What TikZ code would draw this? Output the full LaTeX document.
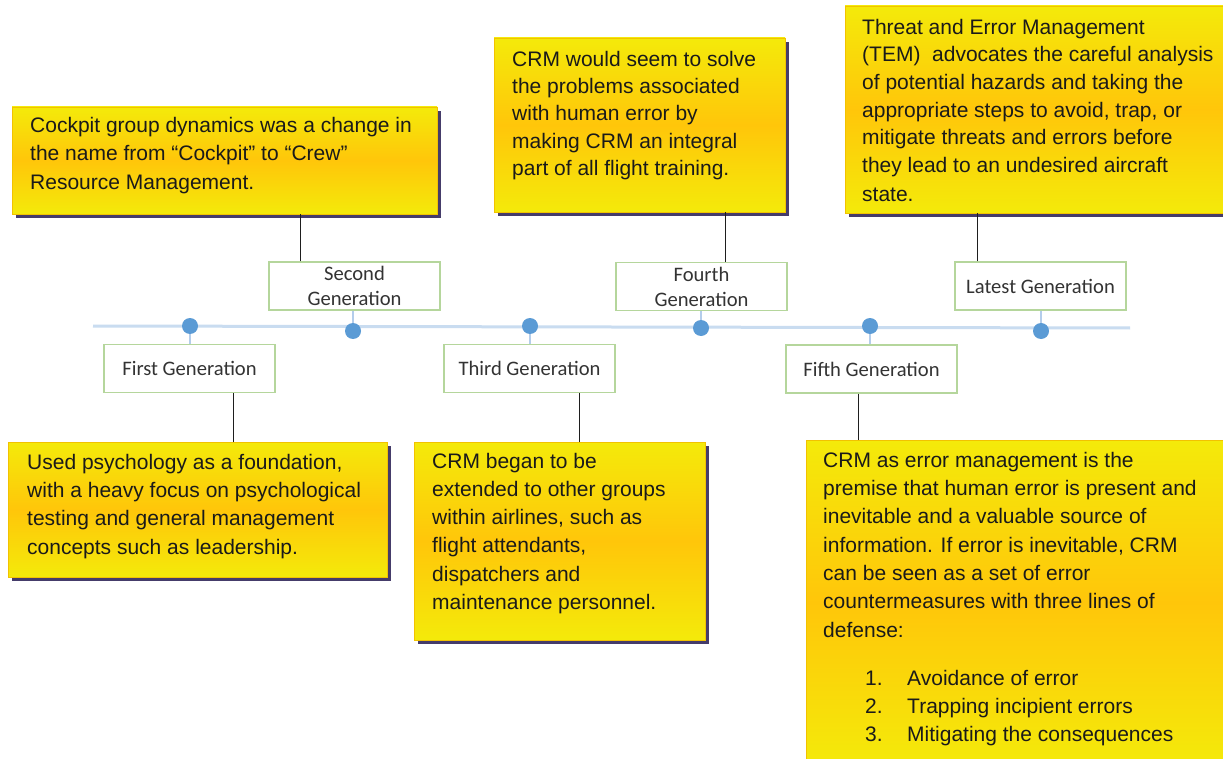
\documentclass[tikz,border=0pt]{standalone}
\usepackage{fontspec}
\setmainfont{Liberation Sans}
\newfontfamily\labelfont{Carlito}
\usetikzlibrary{shadows}

\definecolor{noteyel}{HTML}{F4EA0A}
\definecolor{noteorg}{HTML}{FFC60A}
\definecolor{notebd}{HTML}{F2C200}
\definecolor{noteshadow}{HTML}{453C6A}
\definecolor{notetxt}{HTML}{1A1A1A}
\definecolor{genbd}{HTML}{B5D69C}
\definecolor{gentxt}{HTML}{333333}
\definecolor{dotblue}{HTML}{5B9BD5}
\definecolor{lineblue}{HTML}{C9DCF0}
\definecolor{stemblue}{HTML}{B4CDEB}
\definecolor{conncol}{HTML}{1E1E1E}

\begin{document}
\begin{tikzpicture}[x=1pt,y=-1pt,
  note/.style={draw=notebd, line width=0.8pt,
    top color=noteyel, bottom color=noteyel, middle color=noteorg,
    drop shadow={shadow xshift=4pt, shadow yshift=-4pt, fill=noteshadow, opacity=1},
    inner sep=0pt, outer sep=0pt},
  notetext/.style={anchor=north west, inner sep=0pt, align=left, text=notetxt},
  gen/.style={draw=genbd, line width=1.2pt, fill=white,
    minimum width=171pt, minimum height=48pt, inner sep=0pt, align=center,
    text=gentxt, font=\labelfont\fontsize{20.6}{25}\selectfont},
  dot/.style={circle, fill=dotblue, minimum size=16pt, inner sep=0pt},
  stem/.style={draw=stemblue, line width=1.5pt},
  timeline/.style={draw=lineblue, line width=3pt},
  conn/.style={draw=conncol, line width=1.6pt}]

% canvas
\fill[white] (0,0) rectangle (1223,759);
\useasboundingbox (0,0) rectangle (1223,759);
\clip (0,0) rectangle (1223,759);

% timeline axis
\coordinate (tlS) at (93,326);
\coordinate (tlE) at (1130,328);
\draw[timeline] (tlS) -- (tlE);

% generation labels
\node[gen] (g1) at (189.5,368.5) {First Generation};
\node[gen] (g2) at (354.5,286)   {Second\\Generation};
\node[gen] (g3) at (529.5,368.5) {Third Generation};
\node[gen] (g4) at (701.5,286.5) {Fourth\\Generation};
\node[gen] (g5) at (871.5,369)   {Fifth Generation};
\node[gen] (g6) at (1040.5,286)  {Latest Generation};

% milestones on the axis
\node[dot] (d1) at (190,326) {};
\node[dot] (d2) at (353,331) {};
\node[dot] (d3) at (530,326) {};
\node[dot] (d4) at (701,328) {};
\node[dot] (d5) at (870,326) {};
\node[dot] (d6) at (1041,331) {};

\draw[stem] (d1.south) -- (d1.south |- g1.north);
\draw[stem] (d2.north) -- (d2.north |- g2.south);
\draw[stem] (d3.south) -- (d3.south |- g3.north);
\draw[stem] (d4.north) -- (d4.north |- g4.south);
\draw[stem] (d5.south) -- (d5.south |- g5.north);
\draw[stem] (d6.north) -- (d6.north |- g6.south);

% description boxes
\node[note, minimum width=425pt, minimum height=107pt] (nA) at (224.5,160.5) {};
\node[note, minimum width=291pt, minimum height=174pt] (nB) at (639.5,125) {};
\node[note, minimum width=385pt, minimum height=207pt] (nC) at (1037.5,109.5) {};
\node[note, minimum width=379pt, minimum height=135pt] (nD) at (197.5,509.5) {};
\node[note, minimum width=291pt, minimum height=198pt] (nE) at (559.5,541) {};
\node[note, minimum width=424pt, minimum height=325pt] (nF) at (1018,602.5) {};

\node[notetext, font=\fontsize{21}{28.5}\selectfont] (tA) at (30,112) {%
\strut Cockpit group dynamics was a change in\\
the name from “Cockpit” to “Crew”\\
Resource Management.};

\node[notetext, font=\fontsize{21}{27.3}\selectfont] (tB) at (512,47) {%
\strut CRM would seem to solve\\
the problems associated\\
with human error by\\
making CRM an integral\\
part of all flight training.};

\node[notetext, font=\fontsize{21}{27.6}\selectfont] (tC) at (862,14.7) {%
\strut Threat and Error Management\\
(TEM)\ \ advocates the careful analysis\\
of potential hazards and taking the\\
appropriate steps to avoid, trap, or\\
mitigate threats and errors before\\
they lead to an undesired aircraft\\[2pt]
state.};

\node[notetext, font=\fontsize{21}{28.3}\selectfont] (tD) at (27,449.2) {%
\strut Used psychology as a foundation,\\
with a heavy focus on psychological\\
testing and general management\\
concepts such as leadership.};

\node[notetext, font=\fontsize{21}{28.2}\selectfont] (tE) at (432,448.3) {%
\strut CRM began to be\\
extended to other groups\\
within airlines, such as\\
flight attendants,\\
dispatchers and\\
maintenance personnel.};

\node[notetext, font=\fontsize{21}{28.3}\selectfont] (tF) at (823,447.2) {%
\strut CRM as error management is the\\
premise that human error is present and\\
inevitable and a valuable source of\\
information. If error is inevitable, CRM\\
can be seen as a set of error\\
countermeasures with three lines of\\
defense:\\[20pt]
\hspace*{42pt}\makebox[42pt][l]{1.}Avoidance of error\\
\hspace*{42pt}\makebox[42pt][l]{2.}Trapping incipient errors\\
\hspace*{42pt}\makebox[42pt][l]{3.}Mitigating the consequences};

% leaders from boxes to generation labels
\draw[conn] ([xshift=32pt]g2.north west) -- ([xshift=32pt]g2.north west |- nA.south);
\draw[conn] ([xshift=110pt]g4.north west) -- ([xshift=110pt]g4.north west |- nB.south);
\draw[conn] ([xshift=23pt]g6.north west) -- ([xshift=23pt]g6.north west |- nC.south);
\draw[conn] ([xshift=130pt]g1.south west) -- ([xshift=130pt]g1.south west |- nD.north);
\draw[conn] ([xshift=136pt]g3.south west) -- ([xshift=136pt]g3.south west |- nE.north);
\draw[conn] ([xshift=73pt]g5.south west) -- ([xshift=73pt]g5.south west |- nF.north);

\end{tikzpicture}
\end{document}
